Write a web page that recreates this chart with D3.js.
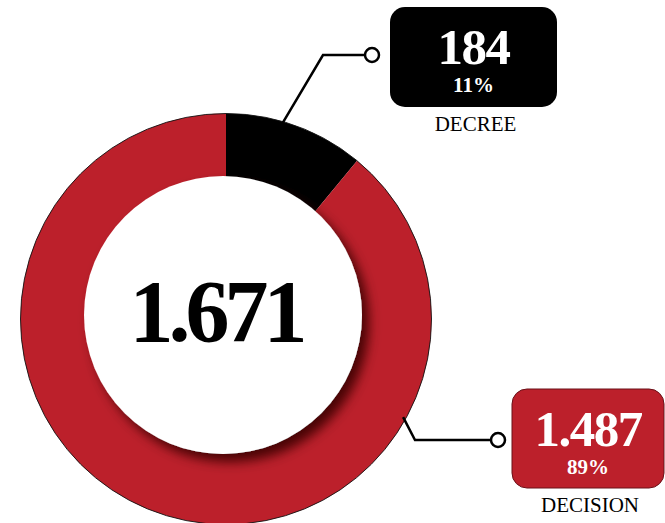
<!DOCTYPE html>
<html>
<head>
<meta charset="UTF-8">
<script src="https://d3js.org/d3.v7.min.js"></script>
<style>
  body { margin: 0; background: #fff; }
  svg { display: block; font-family: "Liberation Serif", "DejaVu Serif", serif; }
</style>
</head>
<body>
<svg id="chart" width="665" height="523"></svg>
<script>
// data
const labels = ["DECREE", "DECISION"];
const values = [184, 1487];
const colors = ["#000000", "#BC202B"];

// callout layout: anchor angle (deg, clockwise from top), elbow, dot, box
const callouts = [
  { angle: 16, elbow: [323, 55], dot: [372, 55], box: [390, 7, 167, 100] },
  { angle: 119, elbow: [415, 440], dot: [498, 440], box: [512, 389, 152, 99] }
];

const svg = d3.select("#chart");
const cx = 226, cy = 319, rOuter = 205.5, rInner = 130;

const fmt = d3.formatLocale({ decimal: ",", thousands: ".", grouping: [3], currency: ["", ""] }).format(",d");
const total = d3.sum(values);

// shadow filter
const defs = svg.append("defs");
const f = defs.append("filter").attr("id", "shadow")
  .attr("x", "-20%").attr("y", "-20%").attr("width", "150%").attr("height", "150%");
f.append("feDropShadow").attr("dx", 7).attr("dy", 8).attr("stdDeviation", 6)
  .attr("flood-color", "#3a0004").attr("flood-opacity", 0.9);

const pie = d3.pie().sort(null).value(d => d);
const arc = d3.arc().innerRadius(rInner).outerRadius(rOuter);
const arcs = pie(values);

const g = svg.append("g").attr("transform", `translate(${cx},${cy})`);
g.selectAll("path.slice").data(arcs).enter().append("path")
  .attr("class", "slice")
  .attr("d", arc)
  .attr("fill", (d, i) => colors[i]);
g.append("circle").attr("r", rOuter).attr("fill", "none")
  .attr("stroke", "#111").attr("stroke-width", 0.9);

// inner white disc with shadow
g.append("circle").attr("cx", -3).attr("cy", -4).attr("r", 139)
  .attr("fill", "#fff").attr("filter", "url(#shadow)");

g.append("text").attr("x", -10).attr("y", 22)
  .attr("text-anchor", "middle")
  .attr("font-size", 88).attr("font-weight", "bold")
  .attr("letter-spacing", -5)
  .attr("fill", "#000")
  .text(fmt(total));

// callouts
callouts.forEach((c, i) => {
  const a = c.angle * Math.PI / 180;
  const p0 = [cx + (rOuter - 3) * Math.sin(a), cy - (rOuter - 3) * Math.cos(a)];
  svg.append("polyline")
    .attr("points", [p0, c.elbow, [c.dot[0] - 7, c.dot[1]]].map(p => p.join(",")).join(" "))
    .attr("fill", "none").attr("stroke", "#000").attr("stroke-width", 2.5);
  svg.append("circle").attr("cx", c.dot[0]).attr("cy", c.dot[1]).attr("r", 7)
    .attr("fill", "#fff").attr("stroke", "#000").attr("stroke-width", 2.5);

  const [bx, by, bw, bh] = c.box;
  svg.append("rect").attr("x", bx).attr("y", by).attr("width", bw).attr("height", bh)
    .attr("rx", 15).attr("ry", 15)
    .attr("fill", colors[i])
    .attr("stroke", i === 0 ? "none" : "#6a1018").attr("stroke-width", 1);

  const mx = bx + bw / 2;
  svg.append("text").attr("x", mx).attr("y", by + 57)
    .attr("text-anchor", "middle").attr("font-size", 51).attr("font-weight", "bold")
    .attr("letter-spacing", -1.5).attr("fill", "#fff")
    .text(fmt(values[i]));
  svg.append("text").attr("x", mx).attr("y", by + 85)
    .attr("text-anchor", "middle").attr("font-size", 21).attr("font-weight", "bold")
    .attr("fill", "#fff")
    .text(Math.round(values[i] / total * 100) + "%");
  svg.append("text").attr("x", mx + 2).attr("y", by + bh + 24)
    .attr("text-anchor", "middle").attr("font-size", 21)
    .attr("fill", "#000")
    .text(labels[i]);
});
</script>
</body>
</html>
